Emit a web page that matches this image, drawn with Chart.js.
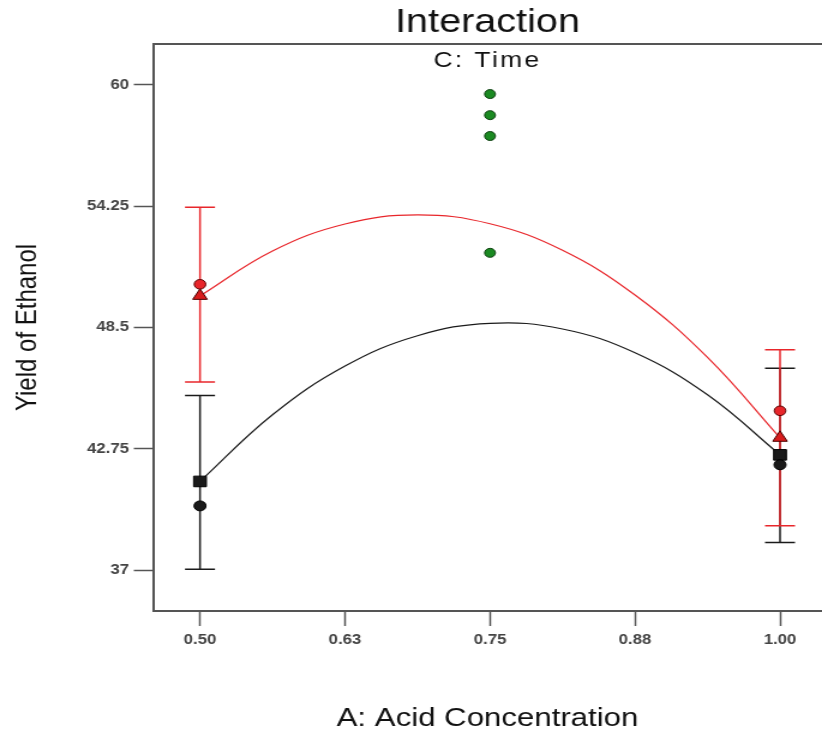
<!DOCTYPE html>
<html>
<head>
<meta charset="utf-8">
<script src="https://cdn.jsdelivr.net/npm/chart.js@4/dist/chart.umd.min.js"></script>
<style>
  html, body { margin: 0; padding: 0; background: #fff; overflow: hidden; }
  /* the reference is stretched sideways, so the whole chart is too.
     the canvas runs 14px past the window: that is the room Chart.js keeps
     for the error bar caps, so the plot box reaches the right edge */
  #wrap { width: 699px; height: 734px; transform: scaleX(1.2); transform-origin: 0 0; }
</style>
</head>
<body>
<div id="wrap"><canvas id="chart" width="699" height="734"></canvas></div>
<script>
// axis ticks
const xTicks = [0.5, 0.625, 0.75, 0.875, 1.0];
const xTickLabels = ['0.50', '0.63', '0.75', '0.88', '1.00'];
const yTicks = [37, 42.75, 48.5, 54.25, 60];

// fitted curves
const curveX = [0.5, 0.5625, 0.625, 0.6875, 0.75, 0.8125, 0.875, 0.9375, 1.0];
const lowCurve = [41.2, 44.36, 46.67, 48.11, 48.7, 48.43, 47.3, 45.31, 42.46];
const highCurve = [50.0, 52.13, 53.41, 53.84, 53.42, 52.16, 50.04, 47.08, 43.27];

// factor levels with predictions, intervals and observations
const levels = [0.5, 1.0];
const lowPred = [41.2, 42.46];
const lowBarLo = [37.03, 38.3];
const lowBarHi = [45.27, 46.57];
const lowObs = [40.04, 41.99];
const highPred = [50.0, 43.27];
const highBarLo = [45.91, 39.1];
const highBarHi = [54.2, 47.44];
const highObs = [50.55, 44.55];

// centre points
const centerX = 0.75;
const centerObs = [59.57, 58.57, 57.58, 52.04];

const RED = '#e8262b';
const BLACK = '#1a1a1a';
const AXIS = '#555';
const FONT = "'Liberation Sans', Arial, sans-serif";

const errorBars = (lo, hi, color, order) => levels.map((x, i) => ({
  data: [{x: x, y: lo[i]}, {x: x, y: hi[i]}],
  showLine: true,
  borderColor: color,
  borderWidth: 1.5,
  pointStyle: 'line',
  pointRadius: 12.5,
  pointBorderColor: color,
  pointBorderWidth: 1.5,
  order: order
}));

const curve = (ys, color) => ({
  data: curveX.map((x, i) => ({x: x, y: ys[i]})),
  showLine: true,
  borderColor: color,
  borderWidth: 1.2,
  tension: 0.4,
  pointRadius: 0,
  order: 5
});

const markers = (ys, style, radius, fill, edge) => ({
  data: levels.map((x, i) => ({x: x, y: ys[i]})),
  showLine: false,
  pointStyle: style,
  pointRadius: radius,
  backgroundColor: fill,
  borderColor: edge,
  borderWidth: 1,
  order: 0
});

const subtitle = {
  id: 'subtitle',
  afterDraw(chart) {
    const {ctx, chartArea} = chart;
    ctx.save();
    ctx.font = '22px ' + FONT;
    ctx.letterSpacing = '2px';
    ctx.fillStyle = '#111';
    ctx.textAlign = 'center';
    ctx.textBaseline = 'middle';
    ctx.fillText('C: Time', (chartArea.left + chartArea.right) / 2, 61);
    ctx.restore();
  }
};

const scaleX = {min: 0.4595, max: 1.0362};

// no extra room for the end labels
const noSidePadding = s => { s.paddingLeft = 0; s.paddingRight = 0; };

new Chart(document.getElementById('chart'), {
  type: 'scatter',
  data: {
    datasets: [
      curve(lowCurve, BLACK),
      curve(highCurve, RED),
      ...errorBars(lowBarLo, lowBarHi, BLACK, 4),
      ...errorBars(highBarLo, highBarHi, RED, 3),
      {
        data: centerObs.map(y => ({x: centerX, y: y})),
        pointStyle: 'circle',
        pointRadius: 4.5,
        backgroundColor: '#1b8a22',
        borderColor: '#0b3d0e',
        borderWidth: 1,
        order: 1
      },
      markers(lowObs, 'circle', 5, BLACK, '#000'),
      markers(lowPred, 'rect', 7.5, BLACK, '#000'),
      markers(highObs, 'circle', 4.8, RED, '#5a0000'),
      markers(highPred, 'triangle', 7, '#d81c1c', '#4a0000')
    ]
  },
  options: {
    responsive: false,
    animation: false,
    events: [],
    layout: {padding: 0},
    plugins: {
      legend: {display: false},
      tooltip: {enabled: false},
      title: {display: false}
    },
    scales: {
      x: {
        type: 'linear',
        position: 'bottom',
        min: scaleX.min,
        max: scaleX.max,
        afterBuildTicks: s => { s.ticks = xTicks.map(v => ({value: v})); },
        afterFit: s => { s.height = 123; noSidePadding(s); },
        ticks: {
          callback: (v, i) => xTickLabels[i],
          font: {family: FONT, size: 14, weight: 'bold'},
          color: '#444',
          padding: 6,
          maxRotation: 0
        },
        grid: {drawOnChartArea: false, tickLength: 15, color: AXIS, tickWidth: 1.5},
        border: {color: AXIS, width: 2},
        title: {
          display: true,
          text: 'A: Acid Concentration',
          font: {family: FONT, size: 26},
          color: '#111',
          padding: 0
        }
      },
      xTop: {
        type: 'linear',
        position: 'top',
        min: scaleX.min,
        max: scaleX.max,
        ticks: {display: false},
        grid: {display: false},
        afterFit: s => { s.height = 44; noSidePadding(s); },
        border: {color: AXIS, width: 2},
        title: {
          display: true,
          text: 'Interaction',
          font: {family: FONT, size: 33},
          color: '#111',
          padding: {top: 3, bottom: 0}
        }
      },
      y: {
        type: 'linear',
        position: 'left',
        min: 35.056,
        max: 61.944,
        afterBuildTicks: s => { s.ticks = yTicks.map(v => ({value: v})); },
        afterFit: s => { s.width = 127.5; s.paddingTop = 0; s.paddingBottom = 0; },
        ticks: {
          callback: v => String(v),
          font: {family: FONT, size: 14, weight: 'bold'},
          color: '#444',
          padding: 4
        },
        grid: {drawOnChartArea: false, tickLength: 16, color: AXIS, tickWidth: 1.5},
        border: {color: AXIS, width: 2},
        title: {
          display: true,
          text: 'Yield of Ethanol',
          font: {family: FONT, size: 24},
          color: '#111',
          padding: {top: 9, bottom: 0}
        }
      }
    }
  },
  plugins: [subtitle]
});
</script>
</body>
</html>
